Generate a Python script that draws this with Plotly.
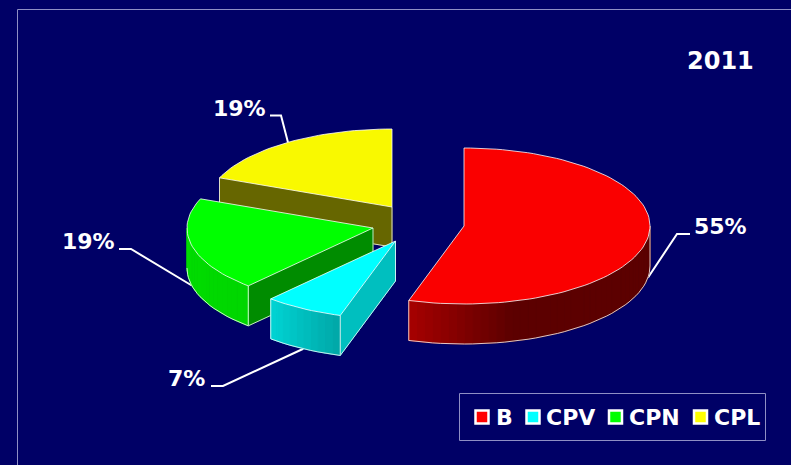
import numpy as np
import plotly.graph_objects as go

# ---- data ----
categories = ["B", "CPV", "CPN", "CPL"]
values = [54.8, 6.9, 19.4, 18.9]
title_text = "2011"

# ---- style / layout ----
BG = "#000066"
FRAME = "#8f8fc4"
W, H = 791, 465
FONT = "DejaVu Sans"
colors = [(255, 0, 0), (0, 255, 255), (0, 255, 0), (255, 255, 0)]
top_colors = ["#fa0000", "#00ffff", "#00ff00", "#f9f900"]
explode_centers = [(464, 226), (395.5, 241), (373, 228), (392, 207)]
RX, RY, DEPTH = 186, 78, 40
radial_shades = [0.4, 0.75, 0.55, 0.4]
shade_angles = [90, 165, 198, 223, 270]
shade_levels = [0.36, 0.36, 0.66, 0.84, 0.87]
EDGE = "rgba(255,255,255,0.78)"
# elbow and label position of each leader line
elbows = [(677, 234), (223, 386), (131, 249), (281, 115.5)]
ends = [(690, 234), (211, 386), (119, 249), (270, 115.5)]
label_pos = [(720, 226), (186, 378), (88, 241), (239, 108)]
# legend layout
legend_box = (459.5, 393.5, 765.5, 440.5)
legend_swatch_x = [482, 533, 615.5, 700.5]
legend_text_x = [494, 544, 627, 712]
legend_y = 417


def pt(c, deg, dz=0):
    t = np.radians(deg)
    return c[0] + RX * np.sin(t), c[1] - RY * np.cos(t) + dz


def rgb(c, s):
    return "rgb(%d,%d,%d)" % tuple(round(v * s) for v in c)


def poly(fig, xs, ys, fill, line=None):
    fig.add_trace(go.Scatter(
        x=list(xs) + [xs[0]], y=list(ys) + [ys[0]], mode="lines", fill="toself",
        fillcolor=fill, line=dict(color=line or fill, width=1),
        hoverinfo="skip", showlegend=False))


def outline(fig, xs, ys):
    fig.add_trace(go.Scatter(x=xs, y=ys, mode="lines",
                             line=dict(color=EDGE, width=1),
                             hoverinfo="skip", showlegend=False))


fig = go.Figure()

total = sum(values)
spans = []
a = 0.0
for v in values:
    spans.append((a, a + 360.0 * v / total))
    a += 360.0 * v / total
mids = [(s + e) / 2 for s, e in spans]

# leader lines
for i in range(len(values)):
    c = explode_centers[i]
    front = 90 < mids[i] % 360 < 270
    ax, ay = pt(c, mids[i], DEPTH if front else 0)
    fig.add_trace(go.Scatter(
        x=[ax, elbows[i][0], ends[i][0]], y=[ay, elbows[i][1], ends[i][1]],
        mode="lines", line=dict(color="white", width=2),
        hoverinfo="skip", showlegend=False))

# wedges, back to front
for i in [3, 2, 1, 0]:
    s, e = spans[i]
    c = explode_centers[i]
    col = colors[i]
    # visible radial faces
    for ang, visible in ((s, np.sin(np.radians(s)) < -1e-6), (e, np.sin(np.radians(e)) > 1e-6)):
        if visible:
            px, py = pt(c, ang)
            px2, py2 = pt(c, ang, DEPTH)
            poly(fig, [c[0], px, px2, c[0]], [c[1], py, py2, c[1] + DEPTH], rgb(col, radial_shades[i]))
            outline(fig, [px, px2, c[0], c[0]], [py, py2, c[1] + DEPTH, c[1]])
    # visible rim with shading
    lo, hi = max(s, 90), min(e, 270)
    if hi > lo:
        grid = np.linspace(lo, hi, int((hi - lo) / 2.5) + 2)
        for g0, g1 in zip(grid[:-1], grid[1:]):
            x0, y0 = pt(c, g0)
            x1, y1 = pt(c, g1)
            x2, y2 = pt(c, g1, DEPTH)
            x3, y3 = pt(c, g0, DEPTH)
            poly(fig, [x0, x1, x2, x3], [y0, y1, y2, y3],
                 rgb(col, float(np.interp((g0 + g1) / 2, shade_angles, shade_levels))))
        bx2, by2 = pt(c, grid, DEPTH)
        outline(fig, list(bx2), list(by2))
        for g in (lo, hi):
            qx, qy = pt(c, g)
            qx2, qy2 = pt(c, g, DEPTH)
            if g in (s, e) or g == 90:
                outline(fig, [qx, qx2], [qy, qy2])
    # top face
    grid = np.linspace(s, e, int((e - s) / 2) + 2)
    ax, ay = pt(c, grid)
    poly(fig, [c[0]] + list(ax), [c[1]] + list(ay), top_colors[i], EDGE)

# legend swatches and labels
for name, col, sx in zip(categories, colors, legend_swatch_x):
    fig.add_trace(go.Scatter(
        x=[sx], y=[legend_y], mode="markers", name=name, showlegend=False,
        marker=dict(symbol="square", size=13, color=rgb(col, 1),
                    line=dict(color="white", width=2.5))))

annotations = [dict(x=720, y=61, text="<b>%s</b>" % title_text, showarrow=False,
                    font=dict(family=FONT, size=24, color="white"))]
for v, p in zip(values, label_pos):
    annotations.append(dict(x=p[0], y=p[1], text="<b>%d%%</b>" % round(v), showarrow=False,
                            font=dict(family=FONT, size=22, color="white")))
for name, tx in zip(categories, legend_text_x):
    annotations.append(dict(x=tx, y=legend_y, text="<b>%s</b>" % name, showarrow=False,
                            xanchor="left", font=dict(family=FONT, size=22, color="white")))

fig.update_layout(
    width=W, height=H, margin=dict(l=0, r=0, t=0, b=0),
    paper_bgcolor=BG, plot_bgcolor=BG, showlegend=False,
    xaxis=dict(range=[0, W], visible=False, fixedrange=True),
    yaxis=dict(range=[H, 0], visible=False, fixedrange=True),
    annotations=annotations,
    shapes=[
        dict(type="line", xref="x", yref="y", x0=17.5, y0=9.5, x1=W, y1=9.5, line=dict(color=FRAME, width=1)),
        dict(type="line", xref="x", yref="y", x0=17.5, y0=9.5, x1=17.5, y1=H, line=dict(color=FRAME, width=1)),
        dict(type="rect", xref="x", yref="y", x0=legend_box[0], y0=legend_box[1],
             x1=legend_box[2], y1=legend_box[3], line=dict(color=FRAME, width=1)),
    ],
)
fig.write_html("out.html", config=dict(displayModeBar=False), post_script=(
    "document.body.style.margin='0';document.body.style.overflow='hidden';"
    "document.body.style.background='%s';" % BG))
